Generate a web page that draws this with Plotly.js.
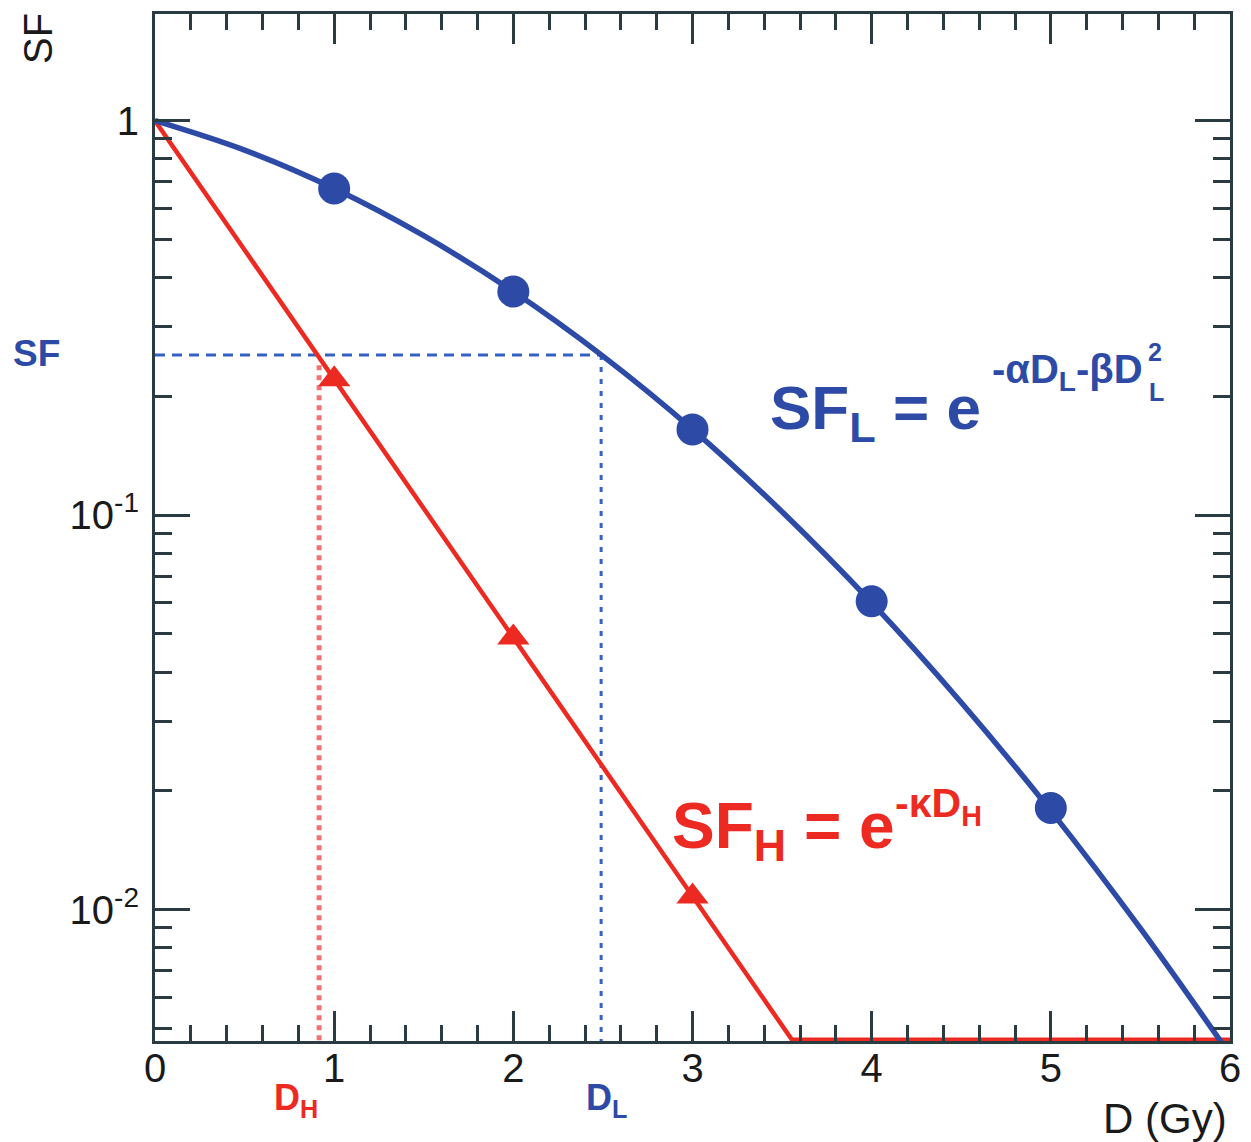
<!DOCTYPE html>
<html>
<head>
<meta charset="utf-8">
<script src="https://cdn.plot.ly/plotly-3.0.1.min.js"></script>
<style>html,body{margin:0;padding:0;background:#fff;}#chart{width:1251px;height:1142px;}</style>
</head>
<body>
<div id="chart"></div>
<script>
// Low-LET curve SF_L
var doseCurve = [0, 0.5, 1, 1.5, 2, 2.5, 3, 3.5, 4, 4.5, 5, 5.5, 6];
var sfLowCurve = [1, 0.842, 0.673, 0.511, 0.369, 0.253, 0.165, 0.102, 0.060, 0.0335, 0.0178, 0.00896, 0.00429];
var doseMarks = [1, 2, 3, 4, 5];
var sfLowMarks = [0.673, 0.369, 0.165, 0.0605, 0.0181];
// High-LET line SF_H
var doseHighLine = [0, 1, 2, 3, 3.555, 6];
var sfHighLine = [1, 0.221, 0.049, 0.0108, 0.00468, 0.00468];
var doseHighMarks = [1, 2, 3];
var sfHighMarks = [0.221, 0.049, 0.0108];
// Iso-effect reference values
var sfRef = 0.2547;
var doseL = 2.49;
var doseH = 0.916;
var sfMin = 0.004645;
// Axis ticks
var xTicks = [0, 1, 2, 3, 4, 5, 6];
var yTickVals = [0.01, 0.1, 1];
var yTickText = ['10<sup>-2</sup>', '10<sup>-1</sup>', '1'];
var yMinorVals = [0.005, 0.006, 0.007, 0.008, 0.009,
  0.02, 0.03, 0.04, 0.05, 0.06, 0.07, 0.08, 0.09,
  0.2, 0.3, 0.4, 0.5, 0.6, 0.7, 0.8, 0.9];

var BLUE = '#2d4ba6', BLUE_D = '#3560c4', RED = '#ec2a22', AX = '#2a3b42';
var W = 1251, H = 1142, ML = 155, MR = 21, MT = 14, MB = 101;
function px(x){ return (x - ML) / (W - ML - MR); }
function py(y){ return (H - MB - y) / (H - MT - MB); }

var traces = [
  {x: [0, doseL], y: [sfRef, sfRef], mode: 'lines', line: {color: BLUE_D, width: 3, dash: '10px,7px'}, hoverinfo: 'skip'},
  {x: [doseL, doseL], y: [sfRef, sfMin], mode: 'lines', line: {color: BLUE_D, width: 3, dash: '5px,7px'}, hoverinfo: 'skip'},
  {x: [doseH, doseH], y: [0.24, sfMin], mode: 'lines', line: {color: 'rgba(240,90,90,0.85)', width: 5, dash: '5px,5px'}, hoverinfo: 'skip'},
  {x: doseHighLine, y: sfHighLine, mode: 'lines', line: {color: RED, width: 4.5}},
  {x: doseCurve, y: sfLowCurve, mode: 'lines', line: {color: BLUE, width: 5.5, shape: 'spline'}},
  {x: doseMarks, y: sfLowMarks, mode: 'markers', marker: {color: BLUE, size: 32, symbol: 'circle'}},
  {x: doseHighMarks, y: sfHighMarks, mode: 'markers', marker: {color: RED, size: 28, symbol: 'triangle-up'}}
];

var tickFont = {family: 'Liberation Sans, Arial, sans-serif', size: 40, color: '#1a1a1a'};
var bold = 'Liberation Sans, Arial, sans-serif';

var layout = {
  width: W, height: H,
  margin: {l: ML, r: MR, t: MT, b: MB},
  paper_bgcolor: '#fff', plot_bgcolor: '#fff',
  showlegend: false,
  xaxis: {
    range: [0, 6], tickvals: xTicks, ticks: 'inside', ticklen: 30, tickwidth: 3, tickcolor: AX,
    showline: true, linewidth: 3, linecolor: AX, mirror: 'ticks', showgrid: false, zeroline: false,
    tickfont: tickFont, ticklabelstandoff: -10,
    minor: {dtick: 0.2, ticks: 'inside', ticklen: 16, tickwidth: 3, tickcolor: AX, showgrid: false}
  },
  yaxis: {
    type: 'log', range: [-2.333, 0.2705], tickvals: yTickVals, ticktext: yTickText,
    ticks: 'inside', ticklen: 35, tickwidth: 3, tickcolor: AX,
    showline: true, linewidth: 3, linecolor: AX, mirror: 'ticks', showgrid: false, zeroline: false,
    tickfont: tickFont, ticklabelstandoff: 5,
    minor: {tickvals: yMinorVals, ticks: 'inside', ticklen: 17, tickwidth: 3, tickcolor: AX, showgrid: false}
  },
  annotations: [
    {xref: 'paper', yref: 'paper', x: px(38), y: py(39), text: 'SF', textangle: -90, showarrow: false,
     font: {family: tickFont.family, size: 40, color: '#1a1a1a'}, xanchor: 'center', yanchor: 'middle'},
    {xref: 'paper', yref: 'paper', x: px(1229), y: py(1118), text: 'D (Gy)', showarrow: false,
     font: {family: tickFont.family, size: 42, color: '#1a1a1a'}, xanchor: 'right', yanchor: 'middle'},
    {xref: 'paper', yref: 'paper', x: px(36), y: py(354), text: '<b>SF</b>', showarrow: false,
     font: {family: bold, size: 37, color: BLUE}, xanchor: 'center', yanchor: 'middle'},
    {xref: 'paper', yref: 'paper', x: px(296), y: py(1100), text: '<b>D<sub>H</sub></b>', showarrow: false,
     font: {family: bold, size: 36, color: RED}, xanchor: 'center', yanchor: 'middle'},
    {xref: 'paper', yref: 'paper', x: px(606), y: py(1100), text: '<b>D<sub>L</sub></b>', showarrow: false,
     font: {family: bold, size: 36, color: BLUE}, xanchor: 'center', yanchor: 'middle'},
    // SF_L formula
    {xref: 'paper', yref: 'paper', x: px(768), y: py(412), text: '<b>SF<sub>L</sub> = e</b>', showarrow: false,
     font: {family: bold, size: 62, color: BLUE}, xanchor: 'left', yanchor: 'middle'},
    {xref: 'paper', yref: 'paper', x: px(990), y: py(372), text: '<b>-αD<sub>L</sub>-βD</b>', showarrow: false,
     font: {family: bold, size: 40, color: BLUE}, xanchor: 'left', yanchor: 'middle'},
    {xref: 'paper', yref: 'paper', x: px(1155), y: py(352), text: '<b>2</b>', showarrow: false,
     font: {family: bold, size: 25, color: BLUE}, xanchor: 'center', yanchor: 'middle'},
    {xref: 'paper', yref: 'paper', x: px(1156), y: py(392), text: '<b>L</b>', showarrow: false,
     font: {family: bold, size: 25, color: BLUE}, xanchor: 'center', yanchor: 'middle'},
    // SF_H formula
    {xref: 'paper', yref: 'paper', x: px(670), y: py(830), text: '<b>SF<sub>H</sub> = e</b>', showarrow: false,
     font: {family: bold, size: 64, color: RED}, xanchor: 'left', yanchor: 'middle'},
    {xref: 'paper', yref: 'paper', x: px(893), y: py(806), text: '<b>-κD<sub>H</sub></b>', showarrow: false,
     font: {family: bold, size: 41, color: RED}, xanchor: 'left', yanchor: 'middle'}
  ]
};

Plotly.newPlot('chart', traces, layout, {displayModeBar: false, staticPlot: true});
</script>
</body>
</html>
